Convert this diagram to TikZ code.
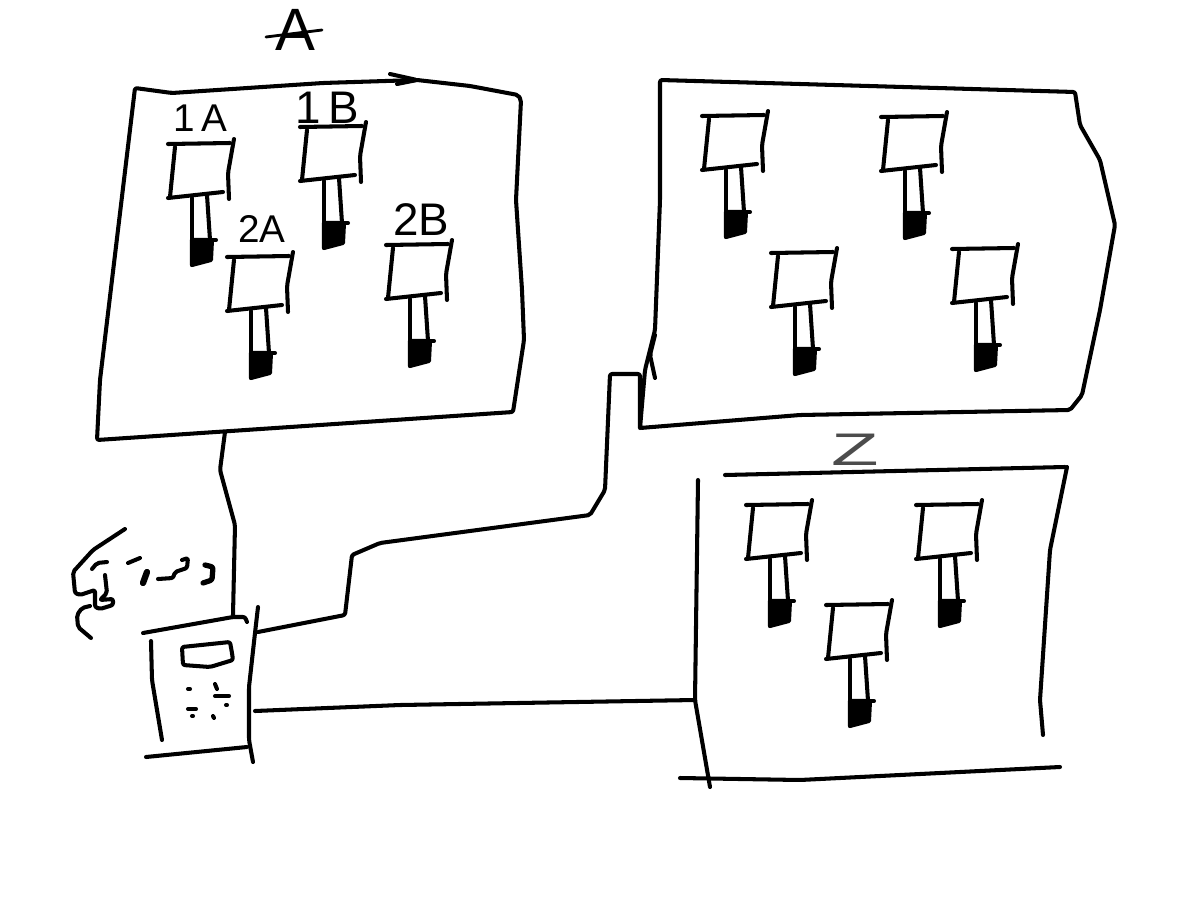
\documentclass[tikz,border=0pt]{standalone}
\usepackage{amsmath, amssymb}
\usepackage{fontspec}
\setmainfont{Liberation Sans}
\usepackage{tikz}
\usetikzlibrary{
  calc,%
  positioning
}
\tikzset{>=latex}
\tikzset{sketch/.style={line width=1.15pt, line join=round, line cap=round, rounded corners=0.6pt}}
\tikzset{handlabel/.style={inner sep=0pt, font=\fontsize{11}{11}\selectfont}}
\tikzset{sign/.pic={
    \draw[sketch] (0,0) -- (62,-1); %
    \draw[sketch] (66,-5) -- (60,29) -- (61,55); %
    \draw[sketch] (7,3) -- (2,53); %
    \draw[sketch] (0,54) -- (55,48); %
    \draw[sketch] (24,54) -- (24,121); %
    \draw[sketch] (39,51) -- (42,96); %
    \filldraw[sketch, sharp corners] (24,96) -- (44,96) -- (43,116) -- (24,121) -- cycle; %
    \draw[sketch] (24,96) -- (48,96); %
  }}

\begin{document}
\begin{tikzpicture}[x=0.01cm, y=-0.01cm]
        \useasboundingbox (0,0) rectangle (1200,900); %
        % room A
        \draw[sketch] (97,440) -- (100,380) -- (135,88) -- (172,93) -- (323,83)
        -- (417,80) -- (470,86) -- (518,95) -- (521,100) -- (516,200) -- (522,290)
        -- (524,340) -- (513,412) -- cycle; %
        \draw[sketch] (390,74) -- (417,80) -- (397,84); %
        \node[handlabel, font=\fontsize{17}{17}\selectfont] (labela) at (295,30) {A}; %
        \draw[sketch, line width=0.8pt] (266,37) -- (322,30); %
        \node[handlabel] (label1a) at (200,118) {1\,A}; %
        \node[handlabel, font=\fontsize{13}{13}\selectfont] (label1b) at (327,108) {1\,B}; %
        \node[handlabel] (label2a) at (262,229) {2A}; %
        \node[handlabel, font=\fontsize{13}{13}\selectfont] (label2b) at (421,220) {2B}; %
        \pic (sign1a) at (168,144) {sign}; %
        \pic (sign1b) at (300,127) {sign}; %
        \pic (sign2a) at (227,257) {sign}; %
        \pic (sign2b) at (386,245) {sign}; %
        % second room
        \draw[sketch] (640,428) -- (645,370) -- (655,330) -- (660,200) -- (660,80)
        -- (800,84) -- (1075,92) -- (1080,125) -- (1100,160) -- (1115,225)
        -- (1100,310) -- (1082,395) -- (1070,410) -- (800,415) -- cycle; %
        \draw[sketch] (655,335) -- (650,355) -- (655,378); %
        \pic (sign3a) at (702,116) {sign}; %
        \pic (sign3b) at (881,117) {sign}; %
        \pic (sign4a) at (771,253) {sign}; %
        \pic (sign4b) at (952,249) {sign}; %
        % room Z
        \draw[sketch] (725,475) -- (1065,467); %
        \draw[sketch] (1067,467) -- (1050,550) -- (1040,700) -- (1043,735); %
        \draw[sketch] (680,778) -- (800,780) -- (1060,767); %
        \draw[sketch] (698,480) -- (695,700) -- (710,787); %
        \node[handlabel, font=\fontsize{13}{13}\selectfont, text=black!70, xscale=1.7] (labelz) at (855,450) {Z}; %
        \pic (signza) at (746,505) {sign}; %
        \pic (signzb) at (916,505) {sign}; %
        \pic (signzc) at (826,605) {sign}; %
        % keypad on the wall
        \draw[sketch] (143,633) -- (233,617) -- (245,617) -- (247,622); %
        \draw[sketch] (258,607) -- (255,633) -- (249,687) -- (249,740) -- (253,762); %
        \draw[sketch] (151,641) -- (152,680) -- (162,740); %
        \draw[sketch] (146,757) -- (247,747); %
        \draw[sketch] (182,647) -- (230,642) -- (232,653) -- (233,660) -- (210,667)
        -- (183,665) -- cycle; %
        \draw[sketch] (188,689) -- (190,689); %
        \draw[sketch] (215,684) -- (217,689); %
        \draw[sketch] (215,696) -- (229,696); %
        \draw[sketch] (226,705) -- (227,705); %
        \draw[sketch] (188,709) -- (196,709); %
        \draw[sketch] (192,716) -- (193,716); %
        \draw[sketch] (213,716) -- (214,718); %
        % person at the keypad
        \draw[sketch] (125,529) -- (93,550) -- (73,572) -- (75,593) -- (80,595)
        -- (95,590) -- (95,607) -- (100,609) -- (113,605) -- (113,599) -- (100,600)
        -- (107,593) -- (105,575); %
        \draw[sketch] (92,569) -- (97,563) -- (107,562); %
        \draw[sketch] (90,606) -- (82,608) -- (77,615) -- (78,627) -- (91,638); %
        \draw[sketch] (128,563) -- (140,558); %
        \draw[sketch, line width=1.8pt] (147,572) -- (143,583); %
        \draw[sketch] (158,579) -- (173,578) -- (175,572) -- (187,568) -- (188,558)
        -- (182,560); %
        \draw[sketch, line width=1.5pt] (205,565) -- (213,567) -- (212,580) -- (203,583); %
        % wiring
        \coordinate (roomadoor) at (225,432); %
        \coordinate (keypadtop) at (233,615); %
        \coordinate (keypadmid) at (258,632); %
        \coordinate (keypadlow) at (255,711); %
        \coordinate (roomtwo) at (640,374); %
        \coordinate (roomz) at (695,700); %
        \draw[sketch] (roomadoor) -- (220,470) -- (235,525) -- (keypadtop); %
        \draw[sketch] (keypadmid) -- (345,615) -- (352,555) -- (380,543) -- (590,515)
        -- (605,490) -- (610,374) -- (roomtwo) -- (640,428); %
        \draw[sketch] (keypadlow) -- (400,705) -- (roomz); %
      \end{tikzpicture}
\end{document}
